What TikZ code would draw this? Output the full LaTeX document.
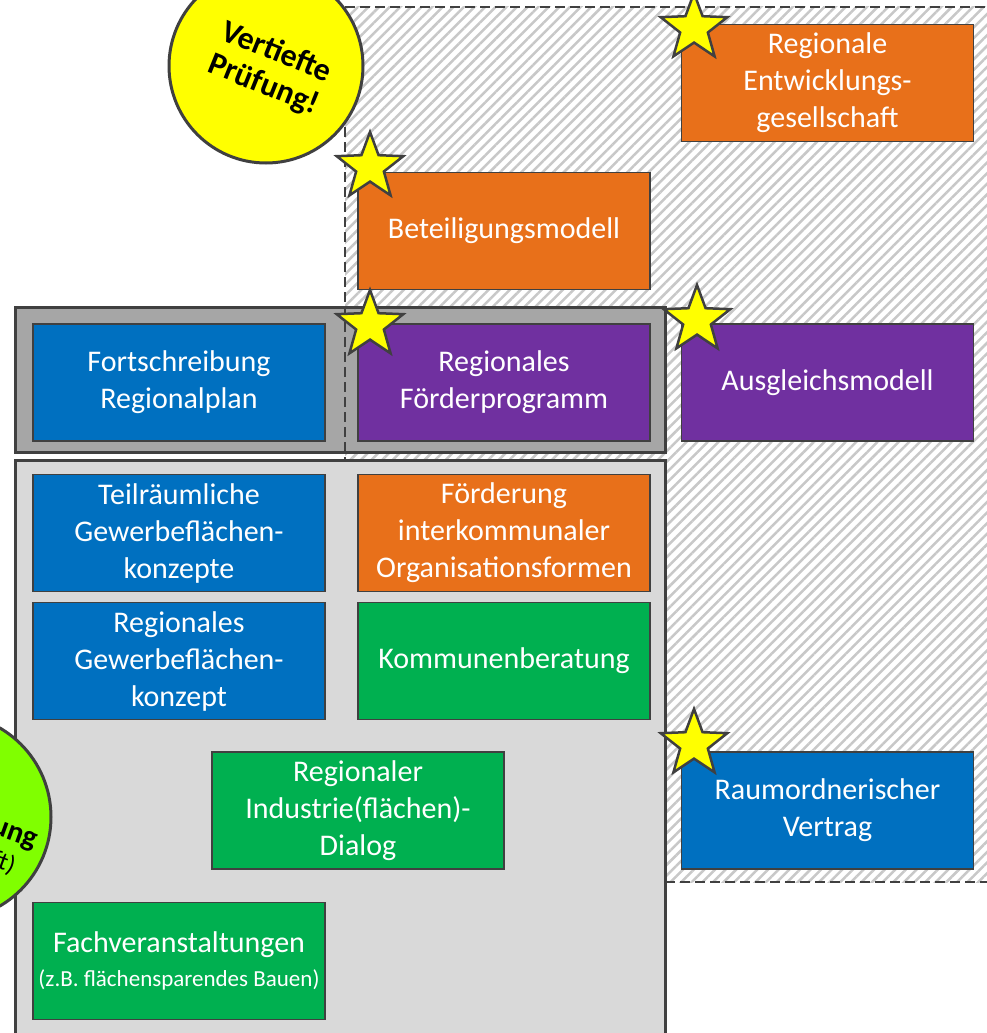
\documentclass[tikz,border=0pt]{standalone}
\usepackage{fontspec}
\setmainfont{Carlito}
\usetikzlibrary{shapes.geometric,patterns.meta}
\definecolor{bdr}{HTML}{404040}
\definecolor{cOrange}{HTML}{E8701A}
\definecolor{cBlue}{HTML}{0070C0}
\definecolor{cPurple}{HTML}{7030A0}
\definecolor{cGreen}{HTML}{00B050}
\definecolor{cLime}{HTML}{80FF00}
\definecolor{cYellow}{HTML}{FFFF00}
\definecolor{cDark}{HTML}{A6A6A6}
\definecolor{cLight}{HTML}{D9D9D9}
\definecolor{cHatch}{HTML}{C8C8C8}
\tikzset{
  box/.style={draw=bdr, line width=1.5pt, text=white, minimum width=292pt,
    minimum height=117pt, align=center, inner sep=0pt,
    font=\fontsize{30}{37}\selectfont},
  orangebox/.style={box, fill=cOrange},
  bluebox/.style={box, fill=cBlue},
  purplebox/.style={box, fill=cPurple},
  greenbox/.style={box, fill=cGreen},
  panel/.style={draw=bdr, line width=3pt, inner sep=0pt},
  dashline/.style={draw=bdr, line width=2.5pt, dash pattern=on 10pt off 5pt},
  starmark/.style={star, star points=5, star point ratio=2.4, fill=cYellow,
    draw=bdr, line width=2.5pt, minimum size=70pt, inner sep=0pt},
  badge/.style={circle, draw=bdr, line width=3pt, inner sep=0pt}
}
\begin{document}
\begin{tikzpicture}[x=1pt,y=-1pt]
\useasboundingbox (0,0) rectangle (987,1033);
\clip (0,0) rectangle (987,1033);
\fill[white] (0,0) rectangle (987,1033);
% hatched region
\fill[pattern={Lines[angle=45,distance=7.5pt,line width=2.5pt]}, pattern color=cHatch]
  (345,7) rectangle (1010,882);
\draw[dashline] (345,7) -- (1010,7);
\draw[dashline] (665,882) -- (1010,882);
% panels
\node[panel, fill=cDark, minimum width=650pt, minimum height=145pt] (top) at (340,379.5) {};
\node[panel, fill=cLight, minimum width=650pt, minimum height=600pt] (bottom) at (340,760) {};
\draw[dashline] (345,7) -- (345,460);
% boxes
\node[orangebox] (reg) at (827.5,83) {Regionale\\Entwicklungs-\\gesellschaft};
\node[orangebox] (bet) at (504,231) {Beteiligungsmodell};
\node[bluebox] (fort) at (179,382.5) {Fortschreibung\\Regionalplan};
\node[purplebox] (foerd) at (504,382.5) {Regionales\\Förderprogramm};
\node[purplebox] (ausg) at (827.5,382.5) {Ausgleichsmodell};
\node[bluebox] (teil) at (179,533) {Teilräumliche\\Gewerbeflächen-\\konzepte};
\node[orangebox] (interk) at (504,533) {Förderung\\interkommunaler\\Organisationsformen};
\node[bluebox] (rgk) at (179,661) {Regionales\\Gewerbeflächen-\\konzept};
\node[greenbox] (komm) at (504,661) {Kommunenberatung};
\node[greenbox] (dial) at (358,810.5) {Regionaler\\Industrie(flächen)-\\Dialog};
\node[greenbox] (fach) at (179,961) {Fachveranstaltungen\\[-3pt]{\fontsize{23}{26}\selectfont (z.B. flächensparendes Bauen)}};
\node[bluebox] (rov) at (827.5,810.5) {Raumordnerischer\\Vertrag};
% stars
\node[starmark] (s1) at (694,28) {};
\node[starmark] (s2) at (370,167) {};
\node[starmark] (s3) at (370,325) {};
\node[starmark] (s4) at (697,320) {};
\node[starmark] (s5) at (694,744) {};
% badges
\node[badge, fill=cYellow, minimum size=194pt] (vp) at (266,66) {};
\node[rotate=-22, align=center, font=\fontsize{32}{35}\selectfont\bfseries] (vpt) at ([xshift=4pt,yshift=-3pt]vp.center) {Vertiefte\\Prüfung!};
\node[badge, fill=cLime, minimum size=206pt] (um) at (-52,817) {};
\node[rotate=-20, align=center, font=\fontsize{30}{30}\selectfont\bfseries] (umt) at ([xshift=18pt,yshift=-15pt]um.center) {Umsetzung\\[1pt]{\fontsize{25}{26}\selectfont\mdseries(dauerhaft)}};
\end{tikzpicture}
\end{document}
